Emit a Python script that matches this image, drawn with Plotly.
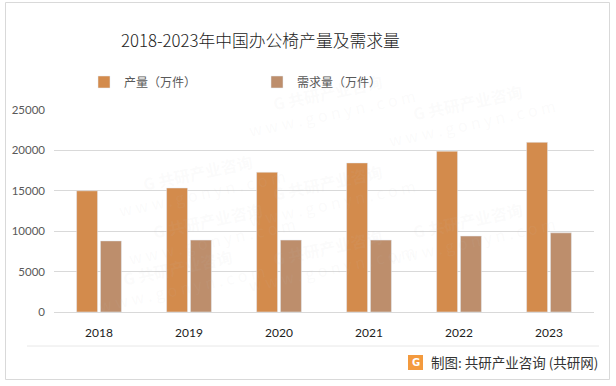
import plotly.graph_objects as go

years = ["2018", "2019", "2020", "2021", "2022", "2023"]
production = [15000, 15350, 17300, 18450, 19900, 21000]
demand = [8800, 8900, 8900, 8900, 9400, 9800]
series_names = ["产量（万件）", "需求量（万件）"]
title_text = "2018-2023年中国办公椅产量及需求量"
source_text = "制图: 共研产业咨询 (共研网)"

W, H = 616, 386
L, R, T, B = 54, 22, 110, 74
pw, ph = W - L - R, H - T - B


def px_x(x):
    return (x - L) / pw


def px_y(y):
    return (H - B - y) / ph


CJK = "Lato, 'Noto Sans CJK SC', sans-serif"

fig = go.Figure()
fig.add_trace(go.Bar(x=years, y=production, name=series_names[0], marker_color="#D38B4C"))
fig.add_trace(go.Bar(x=years, y=demand, name=series_names[1], marker_color="#BD8E6C"))

shapes = [
    dict(type="rect", xref="paper", yref="paper", x0=px_x(5.5), x1=px_x(609.5), y0=px_y(379.5), y1=px_y(2.5),
         line=dict(color="#D9D9D9", width=1), fillcolor="rgba(0,0,0,0)", layer="above"),
    dict(type="line", xref="paper", yref="paper", x0=px_x(27), x1=px_x(599), y0=px_y(346), y1=px_y(346),
         line=dict(color="#E8E8E8", width=1)),
    dict(type="rect", xref="paper", yref="paper", x0=px_x(408), x1=px_x(423), y0=px_y(370), y1=px_y(355),
         line=dict(width=0), fillcolor="#F39A3E"),
]

annotations = [
    dict(text=title_text, xref="paper", yref="paper", x=px_x(260), y=px_y(40), showarrow=False,
         xanchor="center", yanchor="middle",
         font=dict(family="'Noto Sans CJK SC', sans-serif", size=16.8, color="#222222", weight=300)),
    dict(text=source_text, xref="paper", yref="paper", x=px_x(600), y=px_y(362), showarrow=False,
         xanchor="right", yanchor="middle", font=dict(family="'Noto Sans CJK SC', sans-serif", size=13.5, color="#333333")),
    dict(text="<b>G</b>", xref="paper", yref="paper", x=px_x(415.5), y=px_y(362.5), showarrow=False,
         xanchor="center", yanchor="middle", font=dict(family="DejaVu Sans", size=10, color="#FFFFFF")),
]

# faint watermarks
for (wx, wy) in [(110, 140), (330, 150), (560, 70), (90, 320), (330, 300), (560, 230), (120, 230), (420, 60)]:
    annotations.append(dict(text="<b>G 共研产业咨询</b><br>w w w . g o n y n . c o m", xref="paper", yref="paper",
                            x=px_x(wx), y=px_y(wy), showarrow=False, textangle=-12,
                            font=dict(family="'Noto Sans CJK SC'", size=16, color="rgba(200,200,200,0.08)")))

fig.update_layout(
    width=W, height=H,
    margin=dict(l=L, r=R, t=T, b=B),
    paper_bgcolor="#FFFFFF", plot_bgcolor="#FFFFFF",
    barmode="group", bargap=0.47, bargroupgap=0.12,
    showlegend=True,
    legend=dict(orientation="h", x=px_x(84), y=px_y(82), xanchor="left", yanchor="middle",
                entrywidth=128, entrywidthmode="pixels", itemwidth=30,
                font=dict(family=CJK, size=12, color="#595959"), bgcolor="rgba(0,0,0,0)"),
    shapes=shapes,
    annotations=annotations,
    font=dict(family=CJK),
)
fig.update_xaxes(showgrid=False, showline=True, linecolor="#D9D9D9", linewidth=1, ticks="",
                 tickfont=dict(family=CJK, size=12, color="#222222"), ticklabelstandoff=10)
fig.update_yaxes(range=[0, 25000], dtick=5000, showgrid=True, gridcolor="#D9D9D9", gridwidth=1,
                 zeroline=False, showline=False, ticks="", tickformat="d",
                 tickfont=dict(family=CJK, size=11.5, color="#595959"), ticklabelstandoff=8)

fig.write_html("out.html", config={"displayModeBar": False},
               post_script="document.body.style.margin='0px';")
